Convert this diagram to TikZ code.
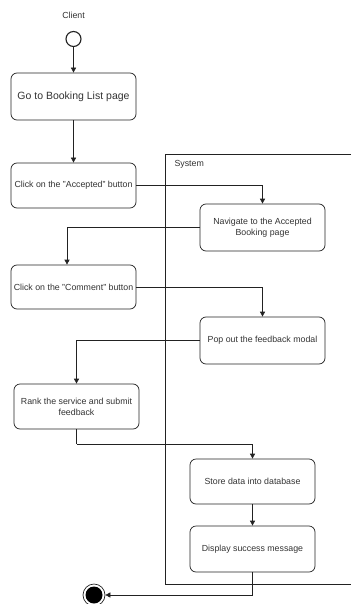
\documentclass[tikz,border=0pt]{standalone}
\usepackage{fontspec}
\setmainfont{Liberation Sans}
\usetikzlibrary{arrows.meta}
\definecolor{txt}{HTML}{333333}
\definecolor{ln}{HTML}{222222}
\begin{document}
\begin{tikzpicture}[x=1pt,y=-1pt,
  every node/.style={font=\fontsize{8.8}{11}\selectfont, text=txt},
  act/.style={draw=ln, line width=0.7pt, rounded corners=6pt, minimum width=125pt, align=center, inner sep=0pt},
  arr/.style={draw=ln, line width=0.7pt, -{Triangle[width=5pt,length=5pt]}}]
\useasboundingbox (0,0) rectangle (351,604);
\fill[white] (0,0) rectangle (351,604);

% system partition (open on the right)
\draw[ln, line width=0.7pt] (351,154) -- (165,154) -- (165,584) -- (351,584);
\node[anchor=west] (sys) at (171,164) {System};

% client lane
\node (client) at (73.5,15) {Client};
\node[circle, draw=ln, line width=1.1pt, minimum size=15pt, inner sep=0pt] (start) at (73.5,39) {};

\node[act, minimum height=47pt, font=\fontsize{10.5}{12.5}\selectfont] (b1) at (73.5,96.5) {Go to Booking List page};
\node[act, minimum height=45pt] (b2) at (73.5,185.5) {Click on the "Accepted" button};
\node[act, minimum height=47pt] (b3) at (262.5,227.5) {Navigate to the Accepted\\Booking page};
\node[act, minimum height=44pt] (b4) at (73.5,287) {Click on the "Comment" button};
\node[act, minimum height=47pt] (b5) at (262.5,340.5) {Pop out the feedback modal};
\node[act, minimum height=45pt] (b6) at (76.5,406.5) {Rank the service and submit\\feedback};
\node[act, minimum height=45pt] (b7) at (252.5,481.5) {Store data into database};
\node[act, minimum height=46pt] (b8) at (252.5,549) {Display success message};

% final node
\node[circle, draw=ln, line width=0.7pt, minimum size=22pt, inner sep=0pt] (stop) at (94,595) {};
\fill[black] (stop.center) circle (8.5pt);

\coordinate (k1) at (76.5,444);

\draw[arr] (start.south) -- (b1.north);
\draw[arr] (b1.south) -- (b2.north);
\draw[arr] (b2.east) -| (b3.north);
\draw[arr] (b3.west) -| ([xshift=-6.5pt]b4.north);
\draw[arr] (b4.east) -| (b5.north);
\draw[arr] (b5.west) -| (b6.north);
\draw[draw=ln, line width=0.7pt] (b6.south) -- (k1);
\draw[arr] (k1) -| (b7.north);
\draw[arr] (b7.south) -- (b8.north);
\draw[arr] (b8.south) |- (stop.east);
\end{tikzpicture}
\end{document}
